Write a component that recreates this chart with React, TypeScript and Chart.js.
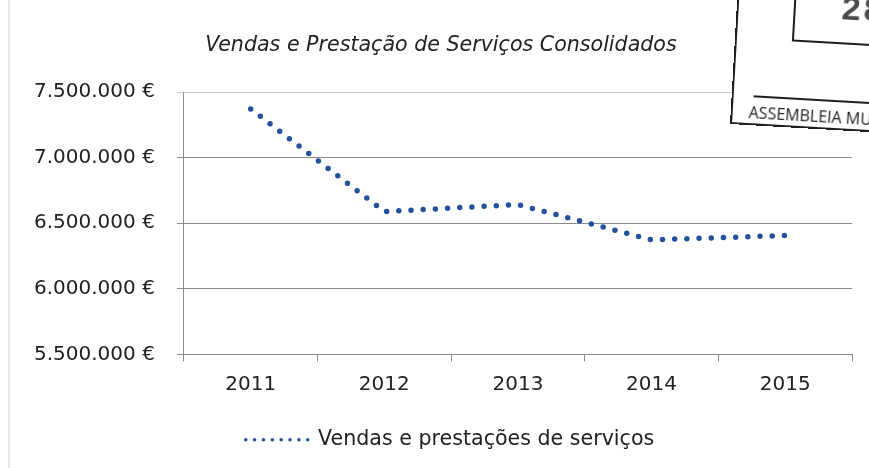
import React, { useEffect, useRef } from 'react';
import { Chart, registerables } from 'chart.js';

Chart.register(...registerables);

const categories = ['2011', '2012', '2013', '2014', '2015'];
const salesValues = [7371000, 6589000, 6642000, 6373000, 6406000];
const yTicks = [5500000, 6000000, 6500000, 7000000, 7500000];
const chartTitle = 'Vendas e Prestação de Serviços Consolidados';
const seriesLabel = 'Vendas e prestações de serviços';
const stampText = 'ASSEMBLEIA MU';
const stampNumber = '28';

const FONT = "'DejaVu Sans', 'Open Sans', sans-serif";
const LINE_COLOR = '#24519c';
const GRID_COLOR = '#8a8a8a';
const TEXT_COLOR = '#222222';

const fmtEuro = (v: number) =>
  String(Math.round(v)).replace(/\B(?=(\d{3})+(?!\d))/g, '.') + ' €';

const boxShift = {
  id: 'boxShift',
  afterLayout(chart: any) {
    if (chart.legend) {
      chart.legend.left += 18;
      chart.legend.right += 18;
    }
    if (chart.titleBlock) {
      chart.titleBlock.left += 9;
      chart.titleBlock.right += 9;
    }
  },
};

export default function App() {
  const ref = useRef<HTMLCanvasElement | null>(null);

  useEffect(() => {
    document.body.style.margin = '0';
    if (!ref.current) return;
    const chart = new Chart(ref.current, {
      type: 'line',
      data: {
        labels: categories,
        datasets: [
          {
            label: seriesLabel,
            data: salesValues,
            borderColor: LINE_COLOR,
            backgroundColor: LINE_COLOR,
            borderWidth: 5.5,
            borderDash: [0, 12.2],
            borderCapStyle: 'round',
            pointRadius: 0,
            tension: 0,
            fill: false,
          },
        ],
      },
      options: {
        responsive: false,
        animation: false,
        layout: { padding: { left: 12, right: 17, top: 0, bottom: 8 } },
        plugins: {
          title: {
            display: true,
            text: chartTitle,
            color: TEXT_COLOR,
            font: { family: FONT, size: 20.6, style: 'italic', weight: 'normal', lineHeight: 1.2 },
            padding: { top: 33, bottom: 34.3 },
          },
          legend: {
            display: true,
            position: 'bottom',
            labels: {
              color: TEXT_COLOR,
              font: { family: FONT, size: 20.6 },
              usePointStyle: true,
              pointStyle: 'line',
              pointStyleWidth: 62,
              padding: 10,
              generateLabels: (c: any) => {
                const items = Chart.defaults.plugins.legend.labels.generateLabels(c);
                return items.map((it: any) => ({
                  ...it,
                  lineWidth: 3.6,
                  lineDash: [0, 8.85],
                  lineCap: 'round',
                  strokeStyle: LINE_COLOR,
                  fillStyle: LINE_COLOR,
                  pointStyle: 'line',
                }));
              },
            },
          },
          tooltip: { enabled: false },
        },
        scales: {
          x: {
            type: 'category',
            offset: true,
            afterFit: (axis: any) => {
              axis.height = 65;
            },
            grid: {
              display: true,
              offset: true,
              drawOnChartArea: false,
              drawTicks: true,
              tickLength: 7,
              color: GRID_COLOR,
            },
            border: { display: true, color: GRID_COLOR, width: 1 },
            ticks: {
              color: TEXT_COLOR,
              font: { family: FONT, size: 20 },
              padding: 11,
              maxRotation: 0,
            },
          },
          y: {
            min: yTicks[0],
            max: yTicks[yTicks.length - 1],
            afterBuildTicks: (axis: any) => {
              axis.ticks = yTicks.map((v) => ({ value: v }));
            },
            grid: {
              color: (ctx: any) =>
                ctx.tick && ctx.tick.value === yTicks[yTicks.length - 1] ? '#c8c8c8' : GRID_COLOR,
              tickLength: 7,
              drawTicks: true,
            },
            border: { display: true, color: GRID_COLOR, width: 1 },
            ticks: {
              color: TEXT_COLOR,
              font: { family: FONT, size: 20 },
              padding: 22,
              callback: (v: any) => fmtEuro(Number(v)),
            },
          },
        },
      },
      plugins: [boxShift],
    } as any);
    return () => chart.destroy();
  }, []);

  return (
    <div
      style={{
        position: 'fixed',
        left: 0,
        top: 0,
        width: 869,
        height: 468,
        overflow: 'hidden',
        background: '#fff',
      }}
    >
      <canvas ref={ref} width={869} height={468} style={{ display: 'block' }} />
      <div
        style={{
          position: 'absolute',
          left: 8,
          top: 0,
          width: 2,
          height: 468,
          background: '#e4e4e4',
        }}
      />
      <div
        style={{
          position: 'absolute',
          left: 730,
          top: -16,
          width: 175,
          height: 140,
          background: '#fff',
          borderLeft: '2px solid #1e1e1e',
          borderBottom: '2px solid #1e1e1e',
          transform: 'rotate(3.3deg)',
          transformOrigin: '0 100%',
          boxSizing: 'border-box',
        }}
      >
        <div
          style={{
            position: 'absolute',
            left: 55,
            top: 0,
            width: 130,
            height: 54,
            borderLeft: '2px solid #1e1e1e',
            borderBottom: '2px solid #1e1e1e',
            boxSizing: 'border-box',
            overflow: 'hidden',
          }}
        >
          <div
            style={{
              position: 'absolute',
              left: 46,
              top: 0,
              fontFamily: "'Liberation Sans', sans-serif",
              fontWeight: 'bold',
              fontSize: 34,
              lineHeight: '34px',
              color: '#4a4a4a',
              letterSpacing: 3,
            }}
          >
            {stampNumber}
          </div>
        </div>
        <div
          style={{
            position: 'absolute',
            left: 20,
            bottom: 26,
            width: 160,
            height: 0,
            borderTop: '2px solid #1e1e1e',
          }}
        />
        <div
          style={{
            position: 'absolute',
            left: 16,
            bottom: 1,
            fontFamily: "'Open Sans', sans-serif",
            fontSize: 16,
            lineHeight: '20px',
            color: '#1e1e1e',
            whiteSpace: 'nowrap',
          }}
        >
          {stampText}
        </div>
      </div>
    </div>
  );
}
